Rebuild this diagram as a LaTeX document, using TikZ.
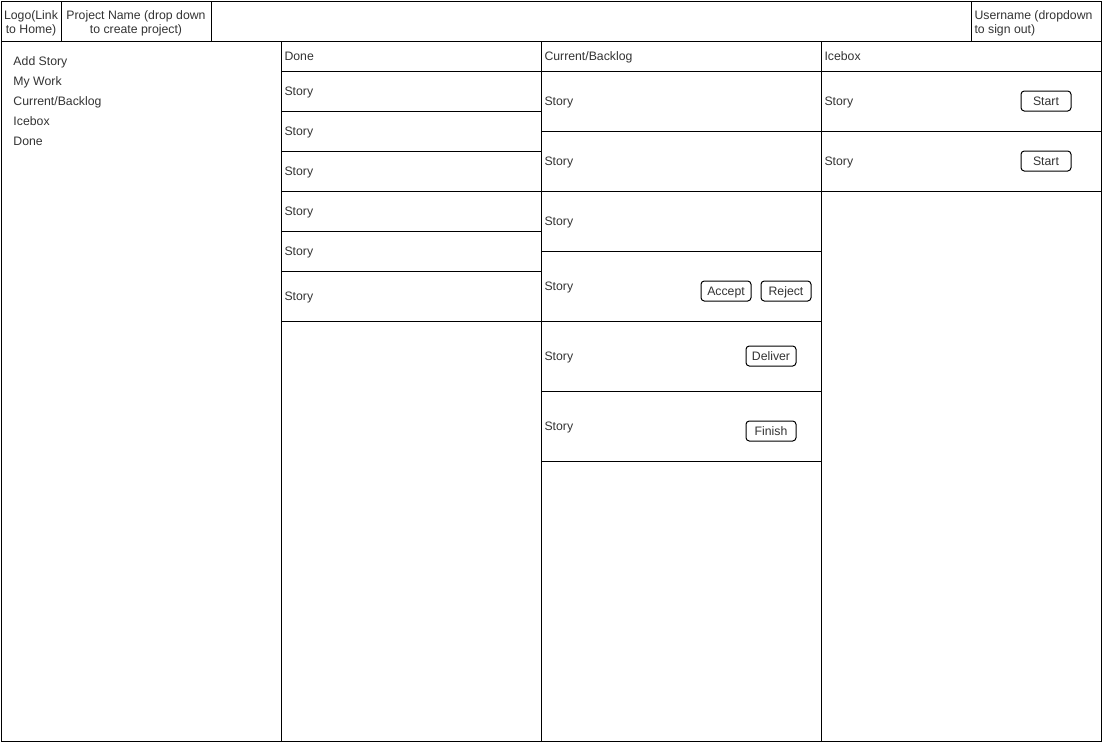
\documentclass[tikz,border=0pt]{standalone}
\usepackage{fontspec}
\setmainfont{Liberation Sans}
\definecolor{txtgray}{HTML}{333333}
\tikzset{
  lbl/.style={anchor=west,inner sep=0pt,text depth=0pt,text=txtgray},
  btn/.style={draw,rounded corners=2.5pt,minimum width=37.5pt,minimum height=15pt,inner sep=0pt,text depth=0pt,text=txtgray},
}
\begin{document}
\begin{tikzpicture}[x=0.75pt,y=-0.75pt,line width=0.75pt,font=\fontsize{9.2}{10.5}\selectfont]
\useasboundingbox (0,0) rectangle (1103,743);
% frame and header bar
\draw (1,1) rectangle (1101,741);
\draw (1,41) -- (1101,41);
\foreach \x in {61,211,971} \draw (\x,1) -- (\x,41);
\node[align=center,text=txtgray] (logo) at (31,23) {Logo(Link\\to Home)};
\node[align=center,text=txtgray] (project) at (136,23) {Project Name (drop down\\to create project)};
\node[anchor=west,inner sep=0pt,align=left,text=txtgray] (user) at (974,23) {Username (dropdown\\to sign out)};
% side menu
\foreach \t [count=\i] in {Add Story,My Work,Current/Backlog,Icebox,Done}
  \node[lbl] (menu\i) at (13,41+20*\i) {\t};
% columns
\foreach \x in {281,541,821} \draw (\x,41) -- (\x,741);
\draw (281,71) -- (1101,71);
\node[lbl] (donehead) at (284,56) {Done};
\node[lbl] (currhead) at (544,56) {Current/Backlog};
\node[lbl] (icehead) at (824,56) {Icebox};
% done stories
\foreach \y in {111,151,191,231,271,321} \draw (281,\y) -- (541,\y);
\foreach \y [count=\i] in {91,131,171,211,251,296}
  \node[lbl] (done\i) at (284,\y) {Story};
% current stories
\foreach \y in {131,191,251,321,391,461} \draw (541,\y) -- (821,\y);
\foreach \y [count=\i] in {101,161,221,286,356,426}
  \node[lbl] (curr\i) at (544,\y) {Story};
\node[btn] (accept) at (726,291) {Accept};
\node[btn] (reject) at (786,291) {Reject};
\node[btn] (deliver) at (771,356) {Deliver};
\node[btn] (finish) at (771,431) {Finish};
% icebox stories
\foreach \y in {131,191} \draw (821,\y) -- (1101,\y);
\foreach \y [count=\i] in {101,161} {
  \node[lbl] (ice\i) at (824,\y) {Story};
  \node[btn] (start\i) at (1046,\y) {Start};
}
\end{tikzpicture}
\end{document}
